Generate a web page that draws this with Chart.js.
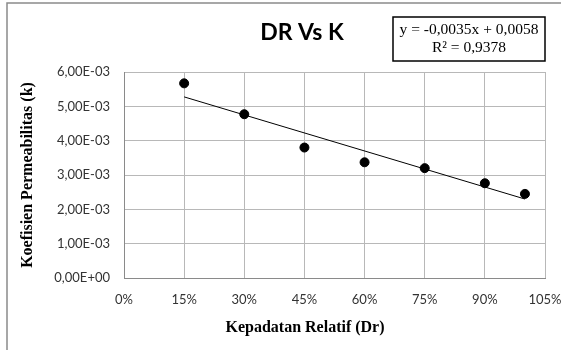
<!DOCTYPE html>
<html>
<head>
<meta charset="utf-8">
<script src="https://cdn.jsdelivr.net/npm/chart.js@4/dist/chart.umd.min.js"></script>
<style>
  html, body { margin: 0; padding: 0; background: #ffffff; }
  #wrap { width: 561px; height: 350px; }
</style>
</head>
<body>
<div id="wrap"><canvas id="c" width="561" height="350"></canvas></div>
<script>
// Relative density (Dr) and permeability coefficient (k)
const relativeDensity = [0.15, 0.30, 0.45, 0.60, 0.75, 0.90, 1.00];
const permeability = [5.67e-3, 4.77e-3, 3.80e-3, 3.37e-3, 3.20e-3, 2.76e-3, 2.45e-3];

// Linear trend line coefficients and fit quality
const trendSlope = -0.0035;
const trendIntercept = 0.0058;
const trendR2 = 0.9378;

// Axis ranges / tick steps
const xTicks = { min: 0, max: 1.05, step: 0.15 };
const yTicks = { min: 0, max: 0.006, step: 0.001 };

const chartTitle = 'DR Vs K';
const xTitle = 'Kepadatan Relatif (Dr)';
const yTitle = 'Koefisien Permeabilitas (k)';

// "6,00E-03" style scientific labels
function sci(v) {
  if (Math.abs(v) < 1e-12) return '0,00E+00';
  const [m, e] = v.toExponential(2).split('e');
  const n = parseInt(e, 10);
  const exp = (n < 0 ? '-' : '+') + String(Math.abs(n)).padStart(2, '0');
  return m.replace('.', ',') + 'E' + exp;
}
function comma(v, d) { return v.toFixed(d).replace('.', ','); }

const trendX = [relativeDensity[0], relativeDensity[relativeDensity.length - 1]];
const trendPoints = trendX.map(x => ({ x: x, y: trendSlope * x + trendIntercept }));

const serifBold = 'bold 16px "Liberation Serif", "Times New Roman", serif';

const frameAndLabels = {
  id: 'frameAndLabels',
  beforeDraw(chart) {
    const ctx = chart.ctx;
    ctx.save();
    ctx.fillStyle = '#ffffff';
    ctx.fillRect(0, 0, chart.width, chart.height);
    ctx.strokeStyle = '#8a8a8a';
    ctx.lineWidth = 1.5;
    ctx.strokeRect(7, 3, 700, 500);
    ctx.restore();
  },
  afterDraw(chart) {
    const ctx = chart.ctx;
    const area = chart.chartArea;
    ctx.save();
    ctx.fillStyle = '#000000';
    ctx.textAlign = 'center';
    ctx.textBaseline = 'middle';

    // chart title
    ctx.font = 'bold 23px Lato, "Open Sans", sans-serif';
    ctx.fillText(chartTitle, 302, 33);

    // axis titles
    ctx.font = serifBold;
    ctx.fillText(xTitle, 305, 328);
    ctx.save();
    ctx.translate(28, (area.top + area.bottom) / 2);
    ctx.rotate(-Math.PI / 2);
    ctx.fillText(yTitle, 0, 0);
    ctx.restore();

    // trend line equation box
    const bx = 393, by = 17, bw = 152, bh = 44;
    ctx.fillStyle = '#ffffff';
    ctx.fillRect(bx, by, bw, bh);
    ctx.strokeStyle = '#000000';
    ctx.lineWidth = 1.5;
    ctx.strokeRect(bx, by, bw, bh);
    ctx.fillStyle = '#000000';
    ctx.font = '15.5px "Liberation Serif", "Times New Roman", serif';
    const sign = trendIntercept >= 0 ? ' + ' : ' - ';
    ctx.fillText('y = ' + comma(trendSlope, 4) + 'x' + sign + comma(Math.abs(trendIntercept), 4), bx + bw / 2, by + 13);
    ctx.fillText('R\u00B2 = ' + comma(trendR2, 4), bx + bw / 2, by + 31);
    ctx.restore();
  }
};

new Chart(document.getElementById('c'), {
  type: 'scatter',
  data: {
    datasets: [
      {
        label: 'k',
        data: relativeDensity.map((x, i) => ({ x: x, y: permeability[i] })),
        backgroundColor: '#000000',
        borderColor: '#000000',
        pointRadius: 4.5,
        pointHoverRadius: 4.5,
        order: 1
      },
      {
        label: 'Linear (k)',
        type: 'line',
        data: trendPoints,
        borderColor: '#000000',
        borderWidth: 1,
        pointRadius: 0,
        fill: false,
        order: 2
      }
    ]
  },
  options: {
    responsive: false,
    animation: false,
    events: [],
    layout: { padding: { left: 8, right: 16, top: 72, bottom: 8 } },
    plugins: {
      legend: { display: false },
      tooltip: { enabled: false },
      title: { display: false }
    },
    scales: {
      x: {
        type: 'linear',
        min: xTicks.min,
        max: xTicks.max,
        afterBuildTicks(scale) {
          const t = [];
          for (let v = xTicks.min; v <= xTicks.max + 1e-9; v += xTicks.step) t.push({ value: +v.toFixed(4) });
          scale.ticks = t;
        },
        afterFit(scale) {
          scale.height = 64;
          scale.paddingLeft = 0;
          scale.paddingRight = 0;
        },
        grid: { color: '#b8b8b8', lineWidth: 1, drawTicks: false },
        border: { color: '#8a8a8a', width: 1 },
        ticks: {
          padding: 14,
          color: '#333333',
          font: { family: 'Lato, "Open Sans", sans-serif', size: 13 },
          maxRotation: 0,
          autoSkip: false,
          callback: v => Math.round(v * 100) + '%'
        },
        title: { display: false }
      },
      y: {
        type: 'linear',
        min: yTicks.min,
        max: yTicks.max,
        afterBuildTicks(scale) {
          const t = [];
          for (let i = 0; i <= Math.round((yTicks.max - yTicks.min) / yTicks.step); i++) t.push({ value: yTicks.min + i * yTicks.step });
          scale.ticks = t;
        },
        afterFit(scale) {
          scale.width = 116;
          scale.paddingTop = 0;
          scale.paddingBottom = 0;
        },
        grid: { color: '#b8b8b8', lineWidth: 1, drawTicks: false },
        border: { color: '#8a8a8a', width: 1 },
        ticks: {
          padding: 14,
          color: '#333333',
          font: { family: 'Lato, "Open Sans", sans-serif', size: 13 },
          callback: v => sci(v)
        },
        title: { display: false }
      }
    }
  },
  plugins: [frameAndLabels]
});
</script>
</body>
</html>
